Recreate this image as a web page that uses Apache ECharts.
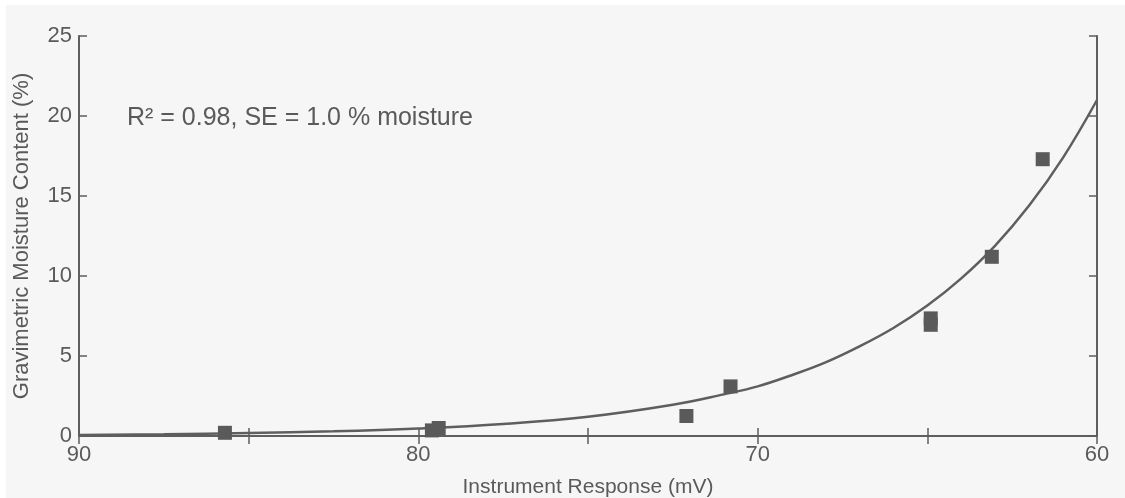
<!DOCTYPE html>
<html>
<head>
<meta charset="utf-8">
<script src="https://cdn.jsdelivr.net/npm/echarts@6/dist/echarts.min.js"></script>
<style>
  html, body { margin: 0; padding: 0; background: #ffffff; }
  #chart { position: absolute; left: 6px; top: 5px; width: 1119px; height: 493px; }
</style>
</head>
<body>
<div id="chart"></div>
<script>
// Calibration samples: instrument response (mV) vs gravimetric moisture (%)
const sampleMv       = [85.7, 79.6, 79.4, 72.1, 70.8, 64.9, 64.9, 63.1, 61.6];
const sampleMoisture = [0.2, 0.35, 0.5, 1.25, 3.1, 7.35, 6.95, 11.2, 17.3];

// Fitted calibration curve, sampled along the response range
const fitMv       = [90, 87.5, 85, 82.5, 80, 77.5, 75, 72.5, 71, 70, 69, 68, 67, 66, 65, 64, 63, 62, 61, 60];
const fitMoisture = [0.07, 0.11, 0.18, 0.29, 0.47, 0.75, 1.2, 1.95, 2.6, 3.1, 3.8, 4.6, 5.6, 6.75, 8.15, 9.85, 11.9, 14.4, 17.4, 21.0];

const xTickLabels = ['90', '80', '70', '60'];
const annotation = 'R\u00b2 = 0.98, SE = 1.0 % moisture';

const ink = '#5e5e5e';
const textInk = '#5a5a5a';
const fontFamily = 'Liberation Sans, Arial, sans-serif';

const chart = echarts.init(document.getElementById('chart'));

const frameAxisLine = { show: true, lineStyle: { color: ink, width: 2 } };
const innerTicks = { show: true, inside: true, length: 8, lineStyle: { color: ink, width: 1.5 } };

chart.setOption({
  backgroundColor: '#f6f6f6',
  animation: false,
  grid: { left: 73, right: 28, top: 31, bottom: 62, outerBoundsMode: 'none', containLabel: false },
  xAxis: [
    {
      type: 'value', inverse: true, min: 60, max: 90, interval: 5,
      position: 'bottom',
      name: 'Instrument Response (mV)', nameLocation: 'middle', nameGap: 41,
      nameTextStyle: { color: textInk, fontSize: 21, fontFamily: fontFamily },
      axisLine: frameAxisLine, axisTick: innerTicks, splitLine: { show: false },
      axisLabel: {
        color: textInk, fontSize: 22, fontFamily: fontFamily, margin: 8,
        formatter: v => xTickLabels.includes(String(v)) ? String(v) : ''
      }
    },
    {
      type: 'value', inverse: true, min: 60, max: 90, interval: 5,
      position: 'top',
      axisLine: frameAxisLine, axisTick: innerTicks, splitLine: { show: false },
      axisLabel: { show: false }
    }
  ],
  yAxis: [
    {
      type: 'value', min: 0, max: 25, interval: 5,
      position: 'left',
      name: 'Gravimetric Moisture Content (%)', nameLocation: 'middle', nameGap: 46,
      nameTextStyle: { color: textInk, fontSize: 22, fontFamily: fontFamily },
      axisLine: frameAxisLine, axisTick: innerTicks, splitLine: { show: false },
      axisLabel: { color: textInk, fontSize: 22, fontFamily: fontFamily, margin: 7 }
    },
    {
      type: 'value', min: 0, max: 25, interval: 5,
      position: 'right',
      axisLine: frameAxisLine, axisTick: innerTicks, splitLine: { show: false },
      axisLabel: { show: false }
    }
  ],
  series: [
    {
      type: 'line',
      data: fitMv.map((x, i) => [x, fitMoisture[i]]),
      smooth: 0.4, showSymbol: false, symbol: 'none',
      lineStyle: { color: ink, width: 2.5 },
      z: 2
    },
    {
      type: 'scatter',
      data: sampleMv.map((x, i) => [x, sampleMoisture[i]]),
      symbol: 'rect', symbolSize: 14,
      itemStyle: { color: '#5a5a5a', opacity: 1 },
      z: 3
    }
  ],
  graphic: [
    {
      type: 'text', left: 121, top: 101,
      style: { text: annotation, fill: textInk, fontSize: 25, fontFamily: fontFamily }
    }
  ]
});
</script>
</body>
</html>
